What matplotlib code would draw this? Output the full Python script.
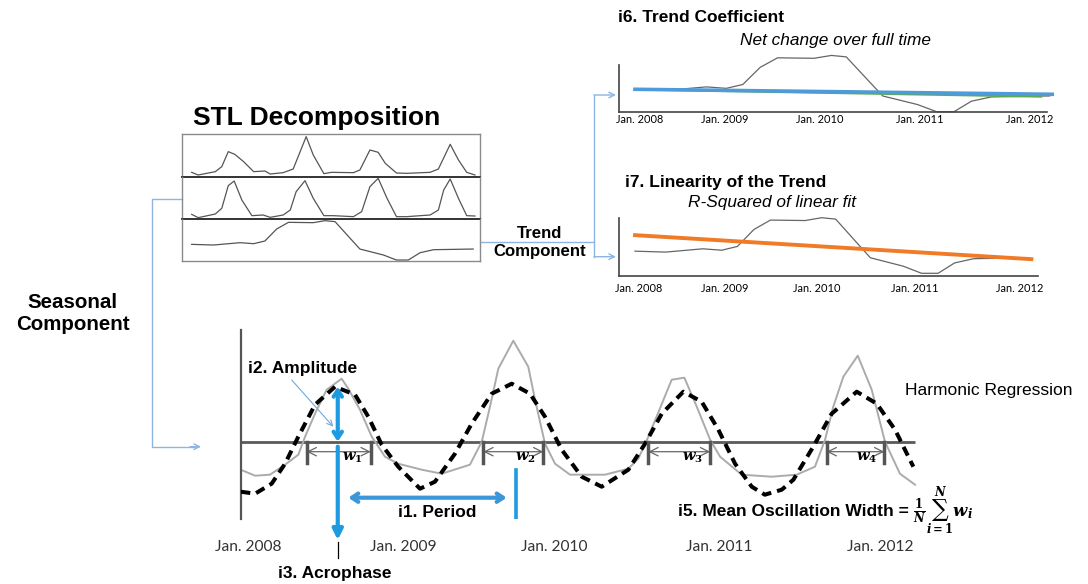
import matplotlib
matplotlib.use("Agg")
import matplotlib.pyplot as plt

W, H = 1088, 584
SANS = "Liberation Sans"
TICK_FONT = "Lato"

# x values are months counted from Jan. 2008
years = ["Jan. 2008", "Jan. 2009", "Jan. 2010", "Jan. 2011", "Jan. 2012"]

# STL decomposition: observed series, seasonal part, trend part
obs_m = [0, 1.1, 4.0, 5.1, 6.2, 7.3, 8.8, 10.5, 12.4, 13.3, 15.5, 17.2, 19.4, 20.6, 22.4,
         23.7, 27.4, 28.5, 30.2, 31.6, 32.8, 34.7, 36.4, 40.4, 41.8, 43.8, 45.2, 46.6, 48.0]
obs_v = [18, 10, 20, 35, 80, 72, 50, 20, 22, 13, 17, 28, 125, 70, 14,
         18, 17, 25, 85, 78, 45, 16, 15, 18, 28, 102, 55, 18, 10]

seas_m = [0, 1.1, 4.0, 5.1, 6.2, 7.2, 8.5, 10.2, 12.1, 13.3, 15.5, 16.7, 17.7, 19.2, 20.6, 22.4,
          24.0, 27.4, 28.8, 30.2, 31.6, 33.1, 34.7, 36.4, 40.4, 41.8, 42.7, 43.8, 45.2, 46.6, 48.0]
seas_v = [12, 2, 13, 30, 98, 112, 55, 8, 10, 3, 10, 25, 80, 113, 60, 8,
          8, 5, 20, 95, 120, 60, 5, 5, 10, 25, 85, 118, 60, 8, 7]

trend_m = [0, 3.7, 8.2, 10.5, 12.4, 14.4, 16.4, 20.6, 22.6, 24.3, 26.6, 28.5, 32.5, 34.7,
           36.7, 38.7, 41.0, 44.4, 47.7]
trend_v = [52, 50, 57, 54, 62, 98, 118, 117, 123, 120, 75, 38, 20, 5,
           5, 27, 36, 37, 38]

# straight lines drawn over the trend (start / end)
net_m = [0, 48]
net_v = [52, 41.5]
net_alt_m = [0, 46.7]
net_alt_v = [52, 37]
lin_m = [0, 48]
lin_v = [86, 35]

# tick positions of the year labels in each panel
i6_ticks = [0.58, 10.36, 21.29, 32.8, 45.45]
i7_ticks = [0.4, 10.9, 22.0, 33.9, 46.6]
main_ticks = [0.5, 11.3, 21.8, 33.2, 44.4]

# seasonal component and its harmonic regression
sc_m = [0, 1.0, 2.03, 3.08, 4.0, 4.47, 5.16, 5.97, 7.01, 7.47, 8.28, 9.1, 10.02, 10.94, 12.57,
        13.96, 15.92, 16.74, 17.31, 17.89, 18.93, 19.97, 20.44, 21.13, 21.83, 22.87, 25.3,
        26.92, 27.61, 28.31, 29.93, 30.81, 31.67, 32.6, 33.29, 34.79, 36.88, 38.61, 39.88,
        40.58, 41.15, 41.85, 42.85, 43.82, 44.74, 45.78, 46.83]
sc_v = [-28, -34, -33, -23, -13, 5, 28, 52, 63, 53, 32, 5, -15, -22, -28,
        -32, -23, 0, 35, 73, 101, 75, 42, -2, -22, -33, -33,
        -27, -17, 5, 62, 64, 35, 2, -15, -33, -35, -33, -25,
        2, 35, 65, 86, 52, 0, -32, -43]

hr_m = [0, 1.0, 2.15, 3.08, 4.0, 5.16, 6.55, 7.94, 8.86, 9.79, 10.94, 12.45, 13.49, 14.88,
        16.04, 17.43, 18.82, 20.09, 21.13, 22.29, 23.68, 25.07, 26.92, 28.08, 29.24, 30.74,
        32.01, 33.17, 34.33, 35.49, 36.4, 37.57, 38.38, 39.76, 41.04, 42.78, 44.17, 45.44, 46.71]
hr_v = [-50, -52, -42, -22, 5, 37, 55, 47, 25, -3, -25, -47, -40, -12,
        18, 48, 58, 48, 25, -8, -35, -45, -28, -2, 28, 50,
        40, 12, -22, -45, -53, -48, -38, -5, 28, 50, 38, 12, -25]

acrophase = 6.74
amplitude = 55
period = 12.38
# zero crossings of the seasonal curve around each peak
width_edges = [(4.58, 9.03), (16.85, 21.01), (28.31, 32.6), (40.69, 44.69)]

BLUE = "#1E9BE0"
LINK = "#8DB5E0"

fig = plt.figure(figsize=(W / 100, H / 100), dpi=100)

# full-figure canvas in pixel units for labels and connectors
bg = fig.add_axes([0, 0, 1, 1])
bg.set_xlim(0, W)
bg.set_ylim(H, 0)
bg.axis("off")


def px_axes(x0, y0, x1, y1):
    ax = fig.add_axes([x0 / W, 1 - y1 / H, (x1 - x0) / W, (y1 - y0) / H])
    ax.patch.set_alpha(0)
    return ax


def bold(x, y, s, size=12.5, **kw):
    bg.text(x, y, s, fontsize=size, fontweight="bold", family=SANS, va="center", **kw)


# ---- STL decomposition block ----
bold(317, 118, "STL Decomposition", size=19, ha="center")
stl = [(134.3, 177, obs_m, obs_v, (4, 132)),
       (177, 219, seas_m, seas_v, (-2, 124)),
       (219, 260.7, trend_m, trend_v, (3, 128))]
for i, (y0, y1, m, v, lim) in enumerate(stl):
    ax = px_axes(181.7, y0, 480, y1)
    ax.plot(m, v, color="#555555", lw=0.9)
    ax.set_xlim(-1.69, 48.85)
    ax.set_ylim(*lim)
    ax.set_xticks([])
    ax.set_yticks([])
    for s in ax.spines.values():
        s.set_color("#8a8a8a")
        s.set_linewidth(1)
    if i < 2:
        ax.spines["bottom"].set_color("#333333")
        ax.spines["bottom"].set_linewidth(1.4)
    if i > 0:
        ax.spines["top"].set_visible(False)

# connectors
bg.plot([182, 151.7, 151.7, 195], [199, 199, 446.7, 446.7], color=LINK, lw=1)
bg.annotate("", xy=(201, 446.7), xytext=(190, 446.7),
            arrowprops=dict(arrowstyle="->", color=LINK, lw=1, shrinkA=0, shrinkB=0))
bg.plot([480, 594], [241.7, 241.7], color=LINK, lw=1)
bg.plot([594, 594], [95, 256.7], color=LINK, lw=1)
for yy in (95, 256.7):
    bg.annotate("", xy=(616, yy), xytext=(594, yy),
                arrowprops=dict(arrowstyle="->", color=LINK, lw=1, shrinkA=0, shrinkB=0))

bold(72.5, 314, "Seasonal\nComponent", size=14.8, ha="center", multialignment="center")
bold(540, 242.2, "Trend\nComponent", size=12.1, ha="center", multialignment="center",
     linespacing=1.25)


def trend_panel(x0, y0, x1, y1, xlim, ylim, spine_top, ticks, pad):
    ax = px_axes(x0, y0, x1, y1)
    ax.plot(trend_m, trend_v, color="#666666", lw=0.9, clip_on=False)
    ax.set_xlim(*xlim)
    ax.set_ylim(*ylim)
    for side in ("top", "right"):
        ax.spines[side].set_visible(False)
    for side in ("left", "bottom"):
        ax.spines[side].set_color("#444444")
        ax.spines[side].set_linewidth(1.2)
    ax.spines["left"].set_bounds(ylim[0], spine_top)
    ax.set_yticks([])
    ax.set_xticks(ticks, years)
    ax.tick_params(axis="x", length=0, pad=pad, labelsize=7.9)
    for lb in ax.get_xticklabels():
        lb.set_family(TICK_FONT)
    return ax


# ---- i6: trend coefficient ----
bold(618, 18, "i6. Trend Coefficient")
bg.text(835, 40, "Net change over full time", fontsize=12.4, style="italic",
        family=SANS, ha="center", va="center")
ax6 = trend_panel(619, 52, 1047, 112, (-1.84, 47.4), (4.37, 130.2), 102.9, i6_ticks, 1.5)
ax6.plot(net_alt_m, net_alt_v, color="#5DAA55", lw=1.8, clip_on=False)
ax6.plot(net_m, net_v, color="#4F9BD9", lw=2.6, clip_on=False)

# ---- i7: linearity of the trend ----
bold(625, 182, "i7. Linearity of the Trend")
bg.text(772, 202, "R-Squared of linear fit", fontsize=12.4, style="italic",
        family=SANS, ha="center", va="center")
ax7 = trend_panel(619.3, 205, 1038, 275.7, (-1.9, 48.8), (-0.1, 150), 121.8, i7_ticks, 5.5)
ax7.plot(lin_m, lin_v, color="#F07A26", lw=2.8, clip_on=False)

# ---- seasonal component with harmonic regression ----
ax = px_axes(240.7, 330, 925, 519.3)
ax.set_xlim(0, 47.52)
ax.set_ylim(-77.6, 111.7)
for side in ("top", "right", "bottom"):
    ax.spines[side].set_visible(False)
ax.spines["left"].set_color("#555555")
ax.spines["left"].set_linewidth(1.6)
ax.set_yticks([])
ax.set_xticks(main_ticks, years)
ax.tick_params(axis="x", length=0, pad=15, labelsize=11.2, labelcolor="#333333")
for lb in ax.get_xticklabels():
    lb.set_family(TICK_FONT)

ax.hlines(0, 0, sc_m[-1], color="#5a5a5a", lw=2, zorder=1)
ax.plot(sc_m, sc_v, color="#ababab", lw=1.4, zorder=2)
ax.plot(hr_m, hr_v, color="black", lw=2.9, dashes=(2.4, 1.5), zorder=3)

# oscillation widths
for k, (a, b) in enumerate(width_edges, start=1):
    ax.plot([a, a], [0, -21.6], color="#555555", lw=2.5, zorder=4)
    ax.plot([b, b], [0, -21.6], color="#555555", lw=2.5, zorder=4)
    ax.annotate("", xy=(b, -10), xytext=(a, -10),
                arrowprops=dict(arrowstyle="<->,head_length=0.6,head_width=0.3",
                                color="#666666", lw=0.9, shrinkA=0, shrinkB=0))
    ax.text(b - 1.25, -16.3, r"$\mathbfit{w}_{\mathbf{%d}}$" % k, fontsize=10.5,
            math_fontfamily="dejavuserif", ha="center", va="center", zorder=5)

# amplitude and acrophase
ax.annotate("", xy=(acrophase, amplitude), xytext=(acrophase, 0),
            arrowprops=dict(arrowstyle="<->,head_length=0.45,head_width=0.3",
                            color=BLUE, lw=3, shrinkA=0, shrinkB=0), zorder=6)
ax.annotate("", xy=(acrophase, -98.3), xytext=(acrophase, -5),
            arrowprops=dict(arrowstyle="-|>,head_length=0.6,head_width=0.3",
                            color=BLUE, lw=3, shrinkA=0, shrinkB=0),
            annotation_clip=False, zorder=6)
ax.plot([acrophase, acrophase], [-100, -116.6], color="black", lw=0.9, clip_on=False)

# period
ax.annotate("", xy=(acrophase + period - 0.65, -56), xytext=(acrophase + 0.73, -56),
            arrowprops=dict(arrowstyle="<->,head_length=0.45,head_width=0.3",
                            color="#3C97DA", lw=3, shrinkA=0, shrinkB=0), zorder=6)
ax.plot([acrophase + period] * 2, [-28.3, -76.6], color=BLUE, lw=2.6, zorder=6)

bold(302.5, 368.3, "i2. Amplitude", ha="center")
bg.annotate("", xy=(333.3, 426.7), xytext=(291.7, 380),
            arrowprops=dict(arrowstyle="->", color="#6FA8DC", lw=0.8, shrinkA=0, shrinkB=0))
bold(335, 573.3, "i3. Acrophase", ha="center")
bold(436.7, 512.7, "i1. Period", ha="center")
bg.text(905, 390.7, "Harmonic Regression", fontsize=12.5, family=SANS, va="center")
bold(678.3, 512, "i5. Mean Oscillation Width =")
bg.text(913, 511, r"$\frac{\mathbf{1}}{\mathbfit{N}}\sum_{\mathbfit{i}\mathbf{=1}}^{\mathbfit{N}}\mathbfit{w}_{\mathbfit{i}}$",
        fontsize=12, math_fontfamily="dejavuserif", va="center")

fig.savefig("out.png", dpi=100)
